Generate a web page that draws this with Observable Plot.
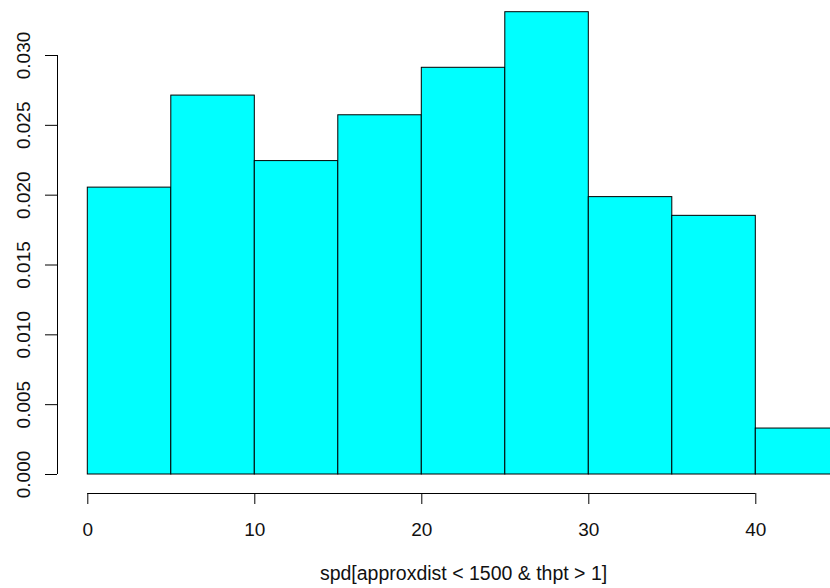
<!DOCTYPE html>
<html>
<head>
<meta charset="utf-8">
<script src="https://cdn.jsdelivr.net/npm/d3@7"></script>
<script src="https://cdn.jsdelivr.net/npm/@observablehq/plot@0.6"></script>
<style>
  html, body { margin: 0; padding: 0; background: white; overflow: hidden; }
  #chart { width: 830px; height: 588px; overflow: hidden; }
</style>
</head>
<body>
<div id="chart"></div>
<script>
// Histogram breaks (lower / upper edges) and densities
const binLower = [0, 5, 10, 15, 20, 25, 30, 35, 40];
const binUpper = [5, 10, 15, 20, 25, 30, 35, 40, 45];
const density = [0.02054, 0.02713, 0.02244, 0.02572, 0.02912, 0.03310, 0.01986, 0.01852, 0.00329];
const xTicks = [0, 10, 20, 30, 40];
const yTicks = [0, 0.005, 0.010, 0.015, 0.020, 0.025, 0.030];
const xLabel = "spd[approxdist < 1500 & thpt > 1]";

const bins = binLower.map((lo, i) => ({lo, hi: binUpper[i], d: density[i]}));
const fmt = d3.format(".3f");
const font = "'Liberation Sans', Arial, Helvetica, sans-serif";

const plot = Plot.plot({
  width: 830,
  height: 588,
  marginLeft: 57,
  marginTop: 55,
  marginBottom: 95,
  marginRight: 0,
  style: {fontFamily: font, fontSize: "19px", background: "white", color: "black"},
  x: {domain: [binLower[0], binUpper[binUpper.length - 1]], range: [87.3, 838.8]},
  y: {domain: [yTicks[0], yTicks[yTicks.length - 1]], range: [474, 55]},
  marks: [
    Plot.rectY(bins, {x1: "lo", x2: "hi", y1: 0, y2: "d", fill: "#00FFFF", stroke: "black", strokeWidth: 1, inset: 0}),
    // y axis line and ticks
    Plot.ruleX([xTicks[0]], {y1: yTicks[0], y2: yTicks[yTicks.length - 1], dx: -30.3, stroke: "black"}),
    Plot.axisY({ticks: yTicks, tickSize: 12, tickFormat: () => "", label: null, anchor: "left"}),
    Plot.text(yTicks, {y: d => d, text: d => fmt(d), frameAnchor: "left", rotate: -90, dx: -33.5,
      textAnchor: "middle", lineAnchor: "middle", fontSize: 19, fill: "#111"}),
    // x axis line, ticks and labels
    Plot.ruleY([yTicks[0]], {x1: xTicks[0], x2: xTicks[xTicks.length - 1], dy: 19, stroke: "black"}),
    Plot.axisX({ticks: xTicks, tickSize: 11, tickPadding: 18, fontSize: 19, label: null, anchor: "bottom", fill: "#111"}),
    Plot.text([xLabel], {x: (binLower[0] + binUpper[binUpper.length - 1]) / 2, text: d => d,
      frameAnchor: "bottom", dy: 86, textAnchor: "middle", fontSize: 19.5, fill: "#111"})
  ]
});
document.getElementById("chart").appendChild(plot);
</script>
</body>
</html>
